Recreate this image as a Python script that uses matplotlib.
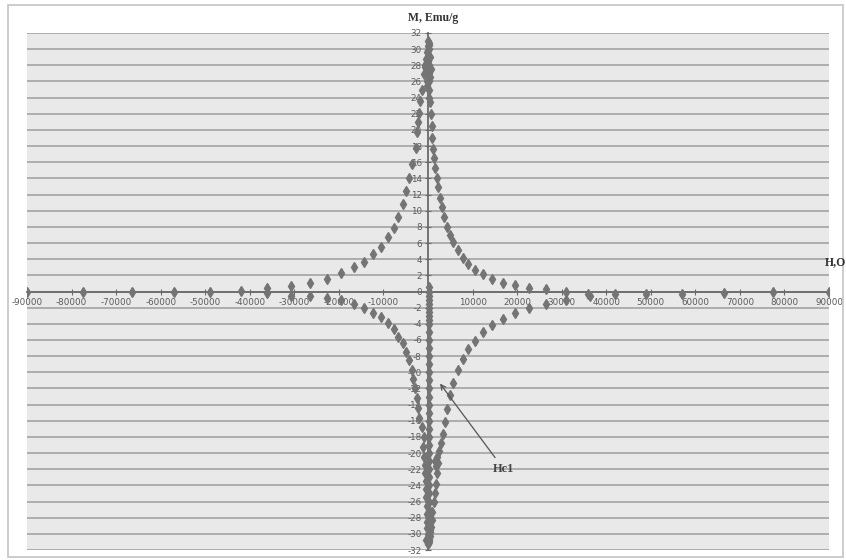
import numpy as np
import matplotlib.pyplot as plt
from matplotlib.patches import Rectangle

# upper-left branch (far left -> top)
h_up_left = [-90000, -77400, -66400, -57000, -48900, -42000, -36100, -30700, -26500,
             -22700, -19500, -16600, -14400, -12300, -10600, -9000, -7700, -6700,
             -5600, -4900, -4300, -3600, -2700, -2500, -2200, -2000, -1800, -1350, -900]
m_up_left = [0.0, 0.0, 0.0, 0.0, 0.0, 0.1, 0.4, 0.7, 1.1,
             1.6, 2.35, 3.0, 3.7, 4.6, 5.5, 6.7, 7.8, 9.2,
             10.8, 12.4, 14.1, 15.8, 17.8, 19.7, 21.0, 22.1, 23.6, 25.0, 26.9]

# upper-right branch (top -> far right)
h_up_right = [450, 670, 900, 1000, 1150, 1350, 1570, 2000, 2250, 2700, 3150, 3600,
              4260, 4940, 5600, 6700, 7850, 9000, 10500, 12300, 14400, 16800, 19500,
              22700, 26500, 31000, 35900, 36300, 42000, 48900, 57000, 66400, 77400, 90000]
m_up_right = [23.4, 22.0, 20.5, 19.0, 17.7, 16.5, 15.3, 14.1, 12.9, 11.6, 10.4, 9.2,
              8.0, 7.0, 6.1, 5.1, 4.2, 3.4, 2.7, 2.2, 1.6, 1.1, 0.75,
              0.45, 0.25, 0.0, -0.3, -0.6, -0.3, -0.3, -0.3, -0.2, -0.1, 0.0]

# lower-left branch
h_low_left = [-36100, -30700, -26500, -22700, -19500, -16600, -14400, -12300, -10600,
              -9000, -7700, -6700, -5600, -4900, -4300, -3600, -3300, -2900, -2500,
              -2200, -2000, -1350, -900, -1100, -900, -700, -600, -500, -400, -350,
              -300, -250, -200, -150, -100]
m_low_left = [-0.2, -0.5, -0.6, -0.75, -1.1, -1.5, -2.1, -2.7, -3.1,
              -3.9, -4.7, -5.6, -6.4, -7.5, -8.5, -9.7, -10.8, -12.0, -13.2,
              -14.4, -15.7, -16.8, -18.0, -19.3, -20.5, -21.5, -22.5, -23.5, -24.5, -25.5,
              -26.5, -27.5, -28.5, -29.3, -30.0]

# lower-right branch
h_low_right = [31000, 26500, 22700, 19500, 16800, 14400, 12300, 10500, 9000, 7850,
               6700, 5600, 4940, 4260, 3800, 3400, 2900, 2400, 2100, 1500, 2300, 1800,
               2000, 1800, 1600, 1350, 1000, 900, 700, 550, 400, 300]
m_low_right = [-1.0, -1.5, -2.1, -2.7, -3.4, -4.1, -5.0, -6.1, -7.1, -8.3,
               -9.7, -11.3, -12.8, -14.5, -16.2, -17.6, -18.8, -19.8, -20.5, -21.0, -21.2, -21.6,
               -22.5, -23.8, -24.9, -26.1, -27.3, -28.3, -29.2, -29.8, -30.3, -30.8]

# column of points along H ~ 0 and dense clusters near saturation
h_axis = [200, 250, 200, 250, 200, 250, 200, 250, 200, 250, 200, 250, 200, 250, 200,
          250, 200, 250, 200, 250, 200, 250, 200, 250, 200, 250, 200, 250, 200, 250,
          200, 250, 200, 250, 200, 250, 200, 250, 200, 250, 200, 250, 200, 250, 200,
          -600, -400, -200, 0, 300, 500, 600, -500, -300, -100, 100, 400, -700, -200,
          200, 500, -400, 0, 300]
m_axis = [-31.0, -30.0, -29.0, -28.0, -27.0, -26.0, -25.0, -24.0, -23.0, -22.0,
          -21.0, -20.0, -19.0, -18.0, -17.0, -16.0, -15.0, -14.0, -13.0, -12.0,
          -11.0, -10.0, -9.0, -8.0, -7.0, -6.0, -5.0, -4.0, -3.0, -2.0,
          -1.0, 0.0, -0.6, 0.6, 24.0, 25.0, 26.0, 27.0, 28.0, 29.0, 30.0, 30.5,
          -1.5, -2.5, -3.5,
          28.0, 28.8, 29.6, 30.4, 30.8, 29.0, 27.5, 27.0, 26.0, 31.0, 28.5, 26.5, 27.8, 25.5,
          -30.5, -29.5, -30.8, -31.2, -28.8]

x_ticks = [-90000, -80000, -70000, -60000, -50000, -40000, -30000, -20000, -10000,
           0, 10000, 20000, 30000, 40000, 50000, 60000, 70000, 80000, 90000]
y_ticks = list(range(-32, 33, 2))

fig = plt.figure(figsize=(8.46, 5.6), dpi=100)
fig.patches.append(Rectangle((8 / 846, 3 / 560), 835 / 846, 552 / 560,
                             transform=fig.transFigure, fill=False,
                             edgecolor='#c4c4c4', lw=1.2))
ax = fig.add_axes([27 / 846, 10 / 560, 802 / 846, 517 / 560])
ax.set_facecolor('#e9e9e9')
ax.set_xlim(-90000, 90000)
ax.set_ylim(-32, 32)

for y in y_ticks:
    ax.axhline(y, color='#a8a8a8', lw=1.3, zorder=1)

mk = dict(marker='d', ms=5.6, color='#747474', ls='none', zorder=3)
ax.plot(h_up_left, m_up_left, **mk)
ax.plot(h_up_right, m_up_right, **mk)
ax.plot(h_low_left, m_low_left, **mk)
ax.plot(h_low_right, m_low_right, **mk)
ax.plot(h_axis, m_axis, **mk)

for s in ['top', 'right']:
    ax.spines[s].set_visible(False)
for s in ['left', 'bottom']:
    ax.spines[s].set_position(('data', 0))
    ax.spines[s].set_color('#6a6a6a')
    ax.spines[s].set_linewidth(1.3)
    ax.spines[s].set_zorder(2)

ax.set_xticks(x_ticks)
ax.set_xticklabels(['' if v == 0 else str(v) for v in x_ticks])
ax.set_yticks(y_ticks)
ax.set_yticklabels([str(v) for v in y_ticks])
ax.tick_params(axis='both', direction='inout', length=5, width=0.8, color='#6a6a6a',
               labelsize=6.3, labelcolor='#5a5a5a', pad=2)
for lab in ax.get_xticklabels() + ax.get_yticklabels():
    lab.set_fontfamily('Liberation Sans Narrow')

ax.annotate('Hc1', xy=(2700, -11.4), xytext=(14500, -22.3),
            fontsize=9, family='Liberation Serif', fontweight='bold', color='#444444',
            arrowprops=dict(arrowstyle='->', color='#555555', lw=0.9,
                            shrinkA=2, shrinkB=0))

fig.text(433 / 846, 1 - 18 / 560, 'M, Emu/g', ha='center', va='center',
         fontsize=8.5, family='Liberation Serif', fontweight='bold', color='#333333')
fig.text(836 / 846, 1 - 262 / 560, 'H,O', ha='center', va='center',
         fontsize=8.5, family='Liberation Serif', fontweight='bold', color='#333333')

fig.savefig('out.png', dpi=100)
